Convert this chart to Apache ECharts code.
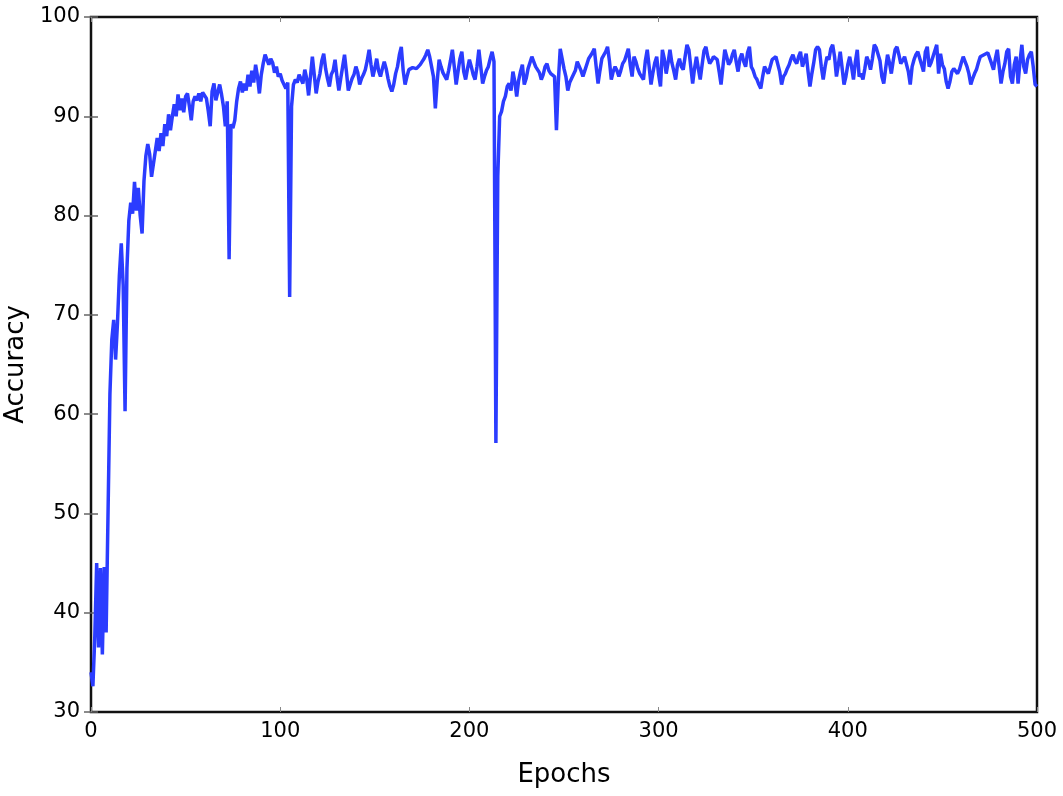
<!DOCTYPE html>
<html>
<head>
<meta charset="utf-8">
<title>Accuracy vs Epochs</title>
<script src="https://cdn.jsdelivr.net/npm/echarts@6/dist/echarts.min.js"></script>
<style>
  html, body { margin: 0; padding: 0; background: #fff; }
  #chart { width: 1063px; height: 796px; }
</style>
</head>
<body>
<div id="chart"></div>
<script>
// accuracy per epoch (epoch = index)
const accuracy = [
  34.0, 32.6, 37.5, 45.0, 36.5, 44.5, 35.8, 44.6, 38.0, 50.0,
  62.0, 67.5, 69.5, 65.5, 69.2, 74.0, 77.2, 73.0, 60.3, 74.7,
  79.5, 81.3, 80.2, 83.4, 80.5, 82.8, 80.0, 78.2, 83.5, 86.0,
  87.2, 86.2, 83.9, 84.0, 86.5, 87.8, 86.5, 88.3, 87.0, 89.2,
  88.0, 90.2, 88.6, 90.0, 91.2, 90.0, 92.2, 90.6, 91.8, 90.4,
  92.0, 92.3, 91.0, 89.6, 91.5, 92.0, 91.6, 92.3, 91.5, 92.4,
  92.6, 91.8, 90.5, 89.0, 92.5, 93.3, 91.6, 92.4, 93.2, 92.2,
  91.0, 89.0, 91.5, 75.6, 89.2, 88.8, 89.6, 91.5, 92.8, 93.5,
  92.4, 93.3, 92.6, 94.2, 93.0, 94.6, 93.4, 95.2, 94.0, 92.3,
  94.2, 95.3, 96.2, 96.0, 95.2, 95.8, 95.4, 94.4, 95.0, 94.0,
  94.3, 93.6, 93.8, 92.8, 93.4, 71.8, 91.0, 93.2, 93.7, 93.4,
  94.2, 94.0, 93.3, 94.7, 93.8, 92.1, 94.0, 96.0, 94.2, 92.3,
  93.5, 94.3, 95.6, 96.3, 94.8, 93.8, 93.0, 94.2, 94.6, 95.7,
  94.0, 92.6, 93.8, 95.0, 96.2, 94.5, 92.6, 92.6, 93.8, 94.2,
  95.0, 94.4, 93.2, 93.8, 94.2, 94.7, 95.6, 96.7, 95.2, 94.0,
  94.8, 95.8, 94.6, 94.0, 94.8, 95.5, 94.8, 93.8, 93.0, 92.5,
  93.2, 94.3, 95.0, 96.2, 97.0, 94.6, 93.2, 94.0, 94.7, 94.8,
  94.9, 95.0, 94.8, 95.0, 95.2, 95.5, 95.8, 96.2, 96.7, 96.0,
  95.0, 94.0, 90.8, 93.6, 95.7, 95.0, 94.4, 94.2, 93.7, 94.6,
  95.6, 96.7, 95.0, 93.2, 94.5, 95.8, 96.5, 94.5, 93.7, 94.8,
  95.7, 95.0, 94.2, 93.7, 95.0, 96.7, 95.0, 93.3, 94.0, 94.6,
  95.0, 95.8, 96.5, 95.5, 57.1, 84.0, 90.0, 90.5, 91.5, 92.0,
  93.0, 93.3, 92.6, 94.5, 93.5, 92.0, 93.6, 94.5, 95.2, 93.2,
  93.8, 94.8, 95.4, 96.0, 95.5, 95.0, 95.2, 94.4, 93.7, 94.2,
  95.0, 95.3, 94.6, 94.3, 94.4, 94.0, 88.6, 93.5, 96.8, 95.8,
  94.8, 94.0, 92.6, 93.4, 93.8, 93.7, 94.6, 95.5, 95.7, 94.6,
  94.0, 94.6, 95.2, 95.8, 96.0, 96.4, 96.8, 95.0, 93.3, 94.6,
  95.8, 96.0, 96.5, 97.0, 95.6, 93.7, 94.5, 95.0, 94.6, 94.0,
  94.6, 95.3, 95.6, 96.2, 96.8, 95.2, 94.0, 96.0, 95.5, 94.8,
  94.3, 94.0, 93.7, 95.6, 96.7, 95.0, 93.2, 94.4, 95.4, 96.0,
  94.2, 93.0, 96.7, 95.8, 94.3, 95.4, 96.7, 95.4, 94.6, 93.7,
  95.2, 95.8, 95.0, 94.7, 96.0, 97.2, 96.7, 95.0, 93.3, 94.8,
  96.0, 94.8, 93.7, 95.2, 96.6, 97.0, 96.0, 95.3, 95.6, 96.0,
  95.8, 95.7, 94.5, 93.2, 95.0, 96.7, 96.0, 95.2, 95.5, 96.2,
  96.7, 95.5, 94.5, 95.8, 96.3, 95.5, 95.0, 96.4, 97.0, 95.0,
  94.6, 94.0, 93.7, 93.2, 92.8, 94.0, 95.0, 94.8, 94.3, 95.0,
  95.7, 95.8, 96.0, 96.2, 94.5, 93.2, 94.0, 94.3, 94.8, 95.2,
  95.8, 96.2, 95.6, 95.3, 96.0, 96.5, 95.0, 95.6, 96.3, 94.5,
  93.0, 94.3, 95.4, 96.7, 97.0, 96.7, 95.0, 93.7, 95.0, 96.0,
  95.7, 96.8, 97.2, 96.0, 94.0, 95.2, 96.5, 96.7, 93.2, 94.0,
  95.2, 96.0, 95.0, 93.7, 95.5, 96.7, 94.0, 94.3, 93.7, 94.8,
  96.0, 95.5, 94.7, 95.8, 97.2, 96.9, 96.7, 95.6, 94.0, 93.3,
  94.8, 96.2, 95.4, 94.3, 95.6, 96.7, 97.0, 96.2, 95.3, 95.6,
  96.0, 96.0, 94.5, 93.2, 95.0, 95.7, 96.2, 96.5, 96.7, 95.2,
  94.5, 96.5, 97.0, 95.0, 95.4, 96.0, 96.6, 97.2, 94.3, 96.3,
  95.2, 94.8, 93.5, 92.8, 93.5, 94.5, 94.8, 94.6, 94.3, 94.7,
  95.4, 96.0, 96.2, 95.0, 94.3, 93.2, 93.8, 94.3, 94.7, 95.4,
  96.0, 96.1, 96.2, 96.3, 96.4, 96.2, 95.3, 94.7, 95.8, 96.7,
  95.0, 93.3, 94.5, 95.3, 96.5, 96.8, 94.0, 93.3, 95.2, 96.0,
  93.3, 95.5, 97.2, 95.0, 94.3, 95.7, 96.2, 96.5, 95.0, 93.2,
  93.0
];
const epochs = accuracy.map((_, i) => i);

const xTicks = [0, 100, 200, 300, 400, 500];
const yTicks = [30, 40, 50, 60, 70, 80, 90, 100];

const chart = echarts.init(document.getElementById('chart'));

const labelFont = {
  fontFamily: 'DejaVu Sans',
  fontSize: 21,
  color: '#000'
};

const option = {
  animation: false,
  backgroundColor: '#fff',
  grid: {
    left: 91,
    right: 26,
    top: 17,
    bottom: 84,
    outerBoundsMode: 'none',
    containLabel: false,
    show: true,
    borderColor: '#111',
    borderWidth: 2.5
  },
  xAxis: [
    {
      type: 'value',
      min: xTicks[0],
      max: xTicks[xTicks.length - 1],
      interval: 100,
      name: 'Epochs',
      nameLocation: 'middle',
      nameGap: 50,
      nameTextStyle: { fontFamily: 'DejaVu Sans', fontSize: 26, color: '#000' },
      axisLine: { show: false },
      axisTick: { show: true, inside: true, length: 5, lineStyle: { color: '#888', width: 1 } },
      axisLabel: Object.assign({ margin: 9 }, labelFont),
      splitLine: { show: false }
    },
    {
      type: 'value',
      position: 'top',
      min: xTicks[0],
      max: xTicks[xTicks.length - 1],
      interval: 100,
      axisLine: { show: false },
      axisTick: { show: true, inside: true, length: 5, lineStyle: { color: '#888', width: 1 } },
      axisLabel: { show: false },
      splitLine: { show: false }
    }
  ],
  yAxis: [
    {
      type: 'value',
      min: yTicks[0],
      max: yTicks[yTicks.length - 1],
      interval: 10,
      name: 'Accuracy',
      nameLocation: 'middle',
      nameGap: 62,
      nameTextStyle: { fontFamily: 'DejaVu Sans', fontSize: 26, color: '#000' },
      axisLine: { show: false },
      axisTick: { show: true, inside: true, length: 7, lineStyle: { color: '#666', width: 1.5 } },
      axisLabel: Object.assign({ margin: 11 }, labelFont),
      splitLine: { show: false }
    },
    {
      type: 'value',
      position: 'right',
      min: yTicks[0],
      max: yTicks[yTicks.length - 1],
      interval: 10,
      axisLine: { show: false },
      axisTick: { show: true, inside: true, length: 7, lineStyle: { color: '#666', width: 1.5 } },
      axisLabel: { show: false },
      splitLine: { show: false }
    }
  ],
  series: [
    {
      name: 'Accuracy',
      type: 'line',
      data: epochs.map((e, i) => [e, accuracy[i]]),
      showSymbol: false,
      symbol: 'none',
      lineStyle: { color: '#2b3cff', width: 3.5 },
      z: 3
    }
  ]
};

chart.setOption(option);
</script>
</body>
</html>
